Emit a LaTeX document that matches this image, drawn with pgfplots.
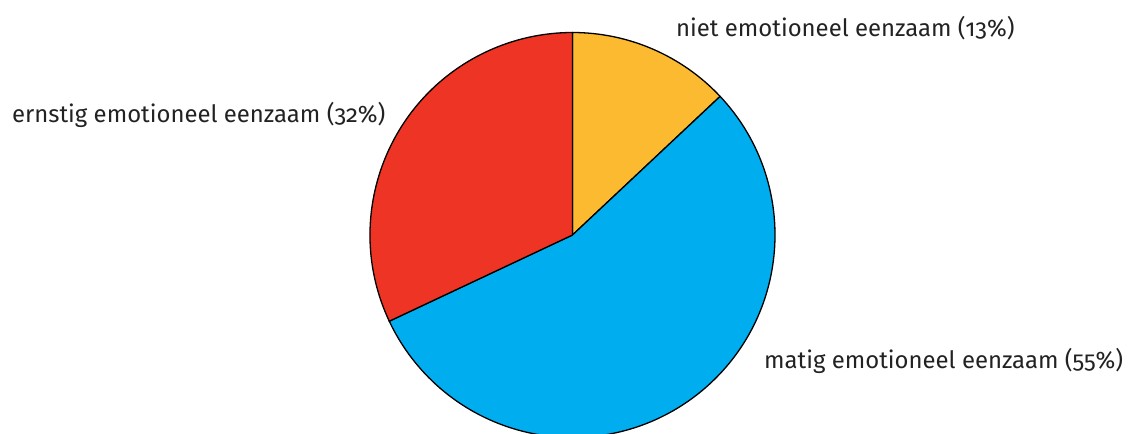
\documentclass[border=0pt]{standalone}
\usepackage{pgfplots}
\pgfplotsset{compat=1.18}
\usepackage{fontspec}
\setmainfont[Numbers=OldStyle]{Fira Sans}
\definecolor{cyel}{HTML}{FBBA30}
\definecolor{cblu}{HTML}{00AEEF}
\definecolor{cred}{HTML}{EE3424}
\definecolor{ctxt}{HTML}{222222}
\begin{document}
\begin{tikzpicture}[x=1pt,y=1pt]
\begin{axis}[
  at={(0,0)}, anchor=origin,
  scale only axis, width=1128pt, height=434pt,
  xmin=0, xmax=1128, ymin=0, ymax=434,
  hide axis, clip=true,
]
% values: percentages, clockwise from top
\def\cx{572.5}\def\cy{199}\def\R{202.5}
\foreach \start/\val/\col in {90/13/cyel, 43.2/55/cblu, -154.8/32/cred}{
  \pgfmathsetmacro\en{\start-3.6*\val}
  \edef\tmp{\noexpand\filldraw[fill=\col, draw=black, line width=1.3pt, line join=round]
    (axis cs:\cx,\cy) -- ++(\start:\R) arc[start angle=\start, end angle=\en, radius=\R] -- cycle;}
  \tmp
}
\end{axis}
\node[anchor=west, text=ctxt, font=\fontsize{23.9}{27}\selectfont, inner sep=0pt] at (676,406) {niet emotioneel eenzaam (13\%)};
\node[anchor=west, text=ctxt, font=\fontsize{23.9}{27}\selectfont, inner sep=0pt] at (12,319) {ernstig emotioneel eenzaam (32\%)};
\node[anchor=west, text=ctxt, font=\fontsize{23.9}{27}\selectfont, inner sep=0pt] at (764,73) {matig emotioneel eenzaam (55\%)};
\pgfresetboundingbox
\path (0,0) rectangle (1128,434);
\end{tikzpicture}
\end{document}
